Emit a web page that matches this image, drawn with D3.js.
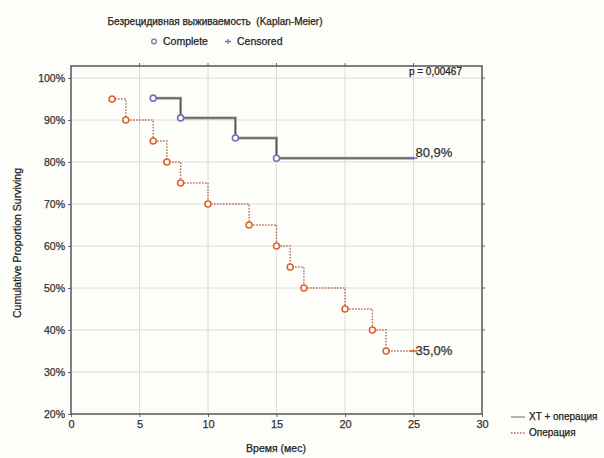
<!DOCTYPE html>
<html><head><meta charset="utf-8">
<script src="https://cdn.jsdelivr.net/npm/d3@7"></script>
<style>body{margin:0;background:#fdfdfa;}svg{display:block;font-family:"Liberation Sans",Arial,sans-serif;}
svg text{stroke:currentColor;stroke-width:0.25px;}</style>
</head><body>
<script>
const xtTimes=[6,8,12,15];
const xtSurv=[95.2,90.5,85.7,80.9];
const xtCensTime=[25];
const opTimes=[3,4,6,7,8,10,13,15,16,17,20,22,23];
const opSurv=[95,90,85,80,75,70,65,60,55,50,45,40,35];
const opCensTime=[25];
const xTicks=[0,5,10,15,20,25,30];
const yTicks=[20,30,40,50,60,70,80,90,100];
const seriesNames=["XT + операция","Операция"];
const endLabels=["80,9%","35,0%"];

const W=604,H=458;
const svg=d3.select("body").append("svg").attr("width",W).attr("height",H).style("color","#222");
const x=d3.scaleLinear().domain([0,30]).range([71,482]);
const y=d3.scaleLinear().domain([20,100]).range([414,78]);
const plotTop=y(100)-12;

// grid
const g=svg.append("g");
g.selectAll(".gx").data(xTicks.slice(1,-1)).join("line")
 .attr("x1",d=>x(d)).attr("x2",d=>x(d)).attr("y1",plotTop).attr("y2",y(20))
 .attr("stroke","#dcdcdc").attr("stroke-width",1);
g.selectAll(".gy").data(yTicks.slice(1)).join("line")
 .attr("x1",x(0)).attr("x2",x(30)).attr("y1",d=>y(d)).attr("y2",d=>y(d))
 .attr("stroke","#dcdcdc").attr("stroke-width",1);

// axes
const ya=svg.append("g").attr("transform",`translate(${x(0)},0)`)
 .call(d3.axisLeft(y).tickValues(yTicks).tickFormat(d=>d+"%").tickSize(3).tickPadding(3));
const xa=svg.append("g").attr("transform",`translate(0,${y(20)})`)
 .call(d3.axisBottom(x).tickValues(xTicks).tickSize(3).tickPadding(3));
[ya,xa].forEach(a=>{a.select(".domain").remove();a.selectAll("line").attr("stroke","#666");
 a.selectAll("text").attr("fill","#333").style("color","#333").style("font-size","10.5px");});
xa.selectAll("text").style("font-size","11px");
// right/top ticks
svg.selectAll(".rt").data(yTicks.slice(1)).join("line")
 .attr("x1",x(30)).attr("x2",x(30)+3).attr("y1",d=>y(d)).attr("y2",d=>y(d)).attr("stroke","#666");
svg.selectAll(".tt").data(xTicks.slice(1,-1)).join("line")
 .attr("x1",d=>x(d)).attr("x2",d=>x(d)).attr("y1",plotTop).attr("y2",plotTop-3).attr("stroke","#666");
// frame
svg.append("rect").attr("x",x(0)).attr("y",plotTop).attr("width",x(30)-x(0)).attr("height",y(20)-plotTop)
 .attr("fill","none").attr("stroke","#555").attr("stroke-width",1.5);

// series
const line=d3.line().x(d=>x(d[0])).y(d=>y(d[1])).curve(d3.curveStepAfter);
const xtPts=xtTimes.map((t,i)=>[t,xtSurv[i]]);
const opPts=opTimes.map((t,i)=>[t,opSurv[i]]);
const xtPath=xtPts.concat([[xtCensTime[0],xtSurv[xtSurv.length-1]]]);
const opPath=opPts.concat([[opCensTime[0],opSurv[opSurv.length-1]]]);

svg.append("path").attr("d",line(xtPath)).attr("fill","none").attr("stroke","#aaa").attr("stroke-width",3);
svg.append("path").attr("d",line(xtPath)).attr("fill","none").attr("stroke","#555").attr("stroke-width",1.2);
svg.append("path").attr("d",line(opPath)).attr("fill","none").attr("stroke","#b86a52").attr("stroke-width",1.4).attr("stroke-dasharray","1.5,1.5");

svg.selectAll(".xm").data(xtPts).join("circle").attr("cx",d=>x(d[0])).attr("cy",d=>y(d[1])).attr("r",3)
 .attr("fill","#fff").attr("stroke","#7272b4").attr("stroke-width",1.6);
svg.selectAll(".om").data(opPts).join("circle").attr("cx",d=>x(d[0])).attr("cy",d=>y(d[1])).attr("r",3)
 .attr("fill","#fff").attr("stroke","#e0622e").attr("stroke-width",1.6);

function plus(px,py,col){
 svg.append("line").attr("x1",px-4).attr("x2",px+4).attr("y1",py).attr("y2",py).attr("stroke",col).attr("stroke-width",1.6);
 svg.append("line").attr("x1",px).attr("x2",px).attr("y1",py-1.5).attr("y2",py+1.5).attr("stroke",col).attr("stroke-width",1.2);
}
plus(x(xtCensTime[0]),y(xtSurv[xtSurv.length-1]),"#7272b4");
plus(x(opCensTime[0]),y(opSurv[opSurv.length-1]),"#e0622e");

// end labels
svg.append("text").attr("x",x(25)+2).attr("y",y(xtSurv[xtSurv.length-1])-1).text(endLabels[0])
 .attr("fill","#333").style("color","#333").style("font-size","13px");
svg.append("text").attr("x",x(25)+2).attr("y",y(opSurv[opSurv.length-1])+4).text(endLabels[1])
 .attr("fill","#333").style("color","#333").style("font-size","13px");

// p value
svg.append("text").attr("x",462).attr("y",75).attr("text-anchor","end").text("p = 0,00467")
 .attr("fill","#222").style("font-size","10px");

// title & legend
svg.append("text").attr("x",215).attr("y",25).attr("text-anchor","middle")
 .text("Безрецидивная выживаемость  (Kaplan-Meier)").attr("fill","#222").style("font-size","10px").style("white-space","pre");
svg.append("circle").attr("cx",154).attr("cy",41.5).attr("r",2.3).attr("fill","#fff").attr("stroke","#7272b4").attr("stroke-width",1.3);
svg.append("text").attr("x",163).attr("y",45).text("Complete").attr("fill","#222").style("font-size","10.5px");
svg.append("line").attr("x1",225).attr("x2",231).attr("y1",41.5).attr("y2",41.5).attr("stroke","#7272b4").attr("stroke-width",1.5);
svg.append("line").attr("x1",228).attr("x2",228).attr("y1",39).attr("y2",44).attr("stroke","#7272b4").attr("stroke-width",1.2);
svg.append("text").attr("x",237).attr("y",45).text("Censored").attr("fill","#222").style("font-size","10.5px");

// bottom legend
svg.append("line").attr("x1",511).attr("x2",525).attr("y1",417).attr("y2",417).attr("stroke","#999").attr("stroke-width",1.5);
svg.append("text").attr("x",529).attr("y",420).text(seriesNames[0]).attr("fill","#222").style("font-size","10px");
svg.append("line").attr("x1",511).attr("x2",525).attr("y1",433).attr("y2",433).attr("stroke","#b86a52").attr("stroke-width",1.3).attr("stroke-dasharray","1.5,1.5");
svg.append("text").attr("x",529).attr("y",436).text(seriesNames[1]).attr("fill","#222").style("font-size","10px");

// axis titles
svg.append("text").attr("x",276).attr("y",452).attr("text-anchor","middle").text("Время (мес)").attr("fill","#222").style("font-size","10.5px");
svg.append("text").attr("transform","translate(21,243) rotate(-90)").attr("text-anchor","middle")
 .text("Cumulative Proportion Surviving").attr("fill","#222").style("font-size","10.5px");
</script>
</body></html>
